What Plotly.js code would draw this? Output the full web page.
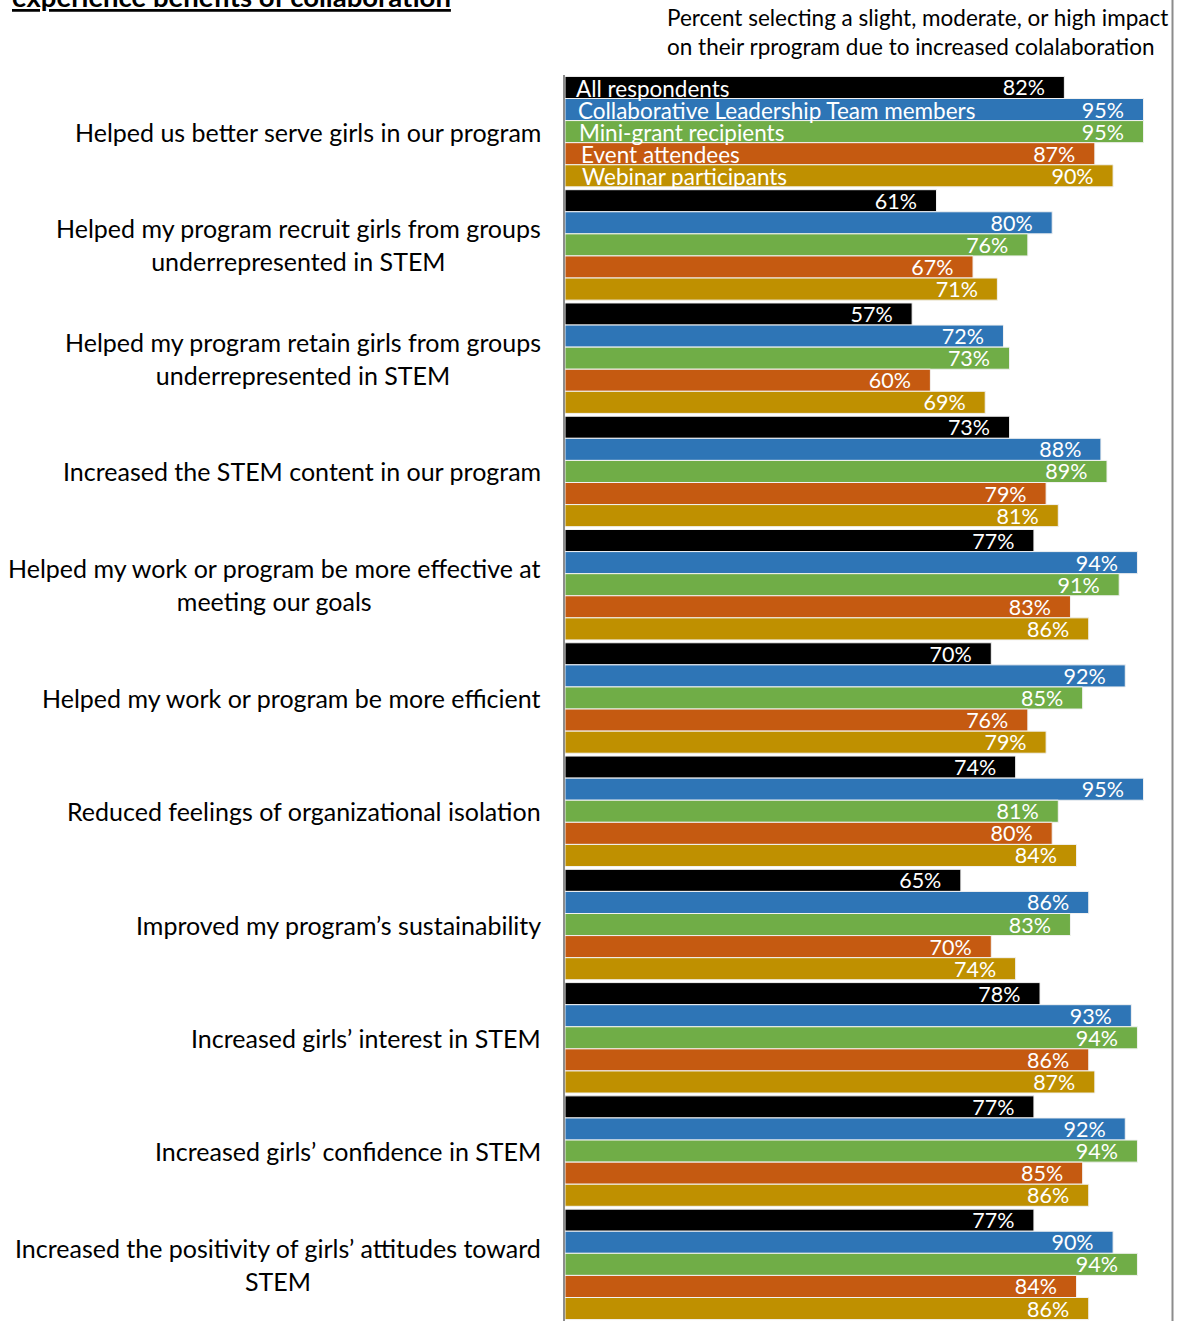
<!DOCTYPE html>
<html>
<head>
<meta charset="utf-8">
<script src="https://cdn.plot.ly/plotly-3.0.1.min.js"></script>
<style>html,body{margin:0;padding:0;background:#fff;}#chart{width:1179px;height:1321px;}</style>
</head>
<body>
<div id="chart"></div>
<script>
const categories = [
  "Helped us better serve girls in our program",
  "Helped my program recruit girls from groups<br>underrepresented in STEM",
  "Helped my program retain girls from groups<br>underrepresented in STEM",
  "Increased the STEM content in our program",
  "Helped my work or program be more effective at<br>meeting our goals",
  "Helped my work or program be more efficient",
  "Reduced feelings of organizational isolation",
  "Improved my program\u2019s sustainability",
  "Increased girls\u2019 interest in STEM",
  "Increased girls\u2019 confidence in STEM",
  "Increased the positivity of girls\u2019 attitudes toward<br>STEM"
];
const seriesNames = ["All respondents", "Collaborative Leadership Team members", "Mini-grant recipients", "Event attendees", "Webinar participants"];
const allRespondents = [82, 61, 57, 73, 77, 70, 74, 65, 78, 77, 77];
const cltMembers     = [95, 80, 72, 88, 94, 92, 95, 86, 93, 92, 90];
const miniGrant      = [95, 76, 73, 89, 91, 85, 81, 83, 94, 94, 94];
const eventAttendees = [87, 67, 60, 79, 83, 76, 80, 70, 86, 85, 84];
const webinar        = [90, 71, 69, 81, 86, 79, 84, 74, 87, 86, 86];
const seriesColors = ["#000000", "#2E75B6", "#70AD47", "#C55A11", "#BF9000"];
const titleText = "experience benefits of collaboration";
const subtitleText = "Percent selecting a slight, moderate, or high impact<br>on their rprogram due to increased colalaboration";

const FONT = "Lato, 'Open Sans', sans-serif";
const seriesValues = [allRespondents, cltMembers, miniGrant, eventAttendees, webinar];
const bargap = 0.025;
const nCat = categories.length;

const traces = seriesValues.map((vals, i) => ({
  type: "bar",
  orientation: "h",
  name: seriesNames[i],
  y: categories,
  x: vals,
  marker: {color: seriesColors[i], line: {color: "#f2f2f2", width: 1}},
  text: vals.map(v => v + "%\u00a0\u00a0\u00a0"),
  textposition: "inside",
  insidetextanchor: "end",
  constraintext: "none",
  insidetextfont: {color: "#ffffff", size: 21.5, family: FONT},
  hoverinfo: "skip",
  cliponaxis: false
}));

const annotations = [];
// category labels
categories.forEach((c, idx) => {
  annotations.push({
    xref: "paper", yref: "y", x: 0, y: idx,
    xanchor: "right", yanchor: "middle", xshift: -22,
    text: c, align: "center", showarrow: false,
    font: {family: FONT, size: 25, color: "#000"}
  });
});
// series names inside first group
const w = (1 - bargap) / seriesNames.length;
seriesNames.forEach((n, i) => {
  annotations.push({
    xref: "x", yref: "y", x: 0, y: 0 - (1 - bargap) / 2 + (i + 0.5) * w,
    xanchor: "left", yanchor: "middle", xshift: 9 + i * 1.5, yshift: -1,
    text: n, showarrow: false,
    font: {family: FONT, size: 22.5, color: "#fff"}
  });
});
// subtitle
annotations.push({
  xref: "paper", yref: "paper", x: 0, y: 1, xanchor: "left", yanchor: "bottom",
  xshift: 100, yshift: 13, align: "left", showarrow: false,
  text: subtitleText, font: {family: FONT, size: 22.5, color: "#000"}
});
// title (partly cut at top)
annotations.push({
  xref: "paper", yref: "paper", x: 0, y: 1, xanchor: "left", yanchor: "bottom",
  xshift: -555, yshift: 60, showarrow: false,
  text: "<b><u>" + titleText + "</u></b>", font: {family: FONT, size: 27.5, color: "#000"}
});

const layout = {
  width: 1179, height: 1321,
  margin: {l: 565, r: 5, t: 75, b: 0, pad: 0},
  paper_bgcolor: "#fff", plot_bgcolor: "#fff",
  barmode: "group", bargap: bargap, bargroupgap: 0,
  showlegend: false,
  font: {family: FONT},
  xaxis: {range: [0, 100], showticklabels: false, showgrid: false, zeroline: false, showline: false, fixedrange: true},
  yaxis: {type: "category", range: [nCat - 0.5, -0.5], autorange: false, showticklabels: false, showgrid: false, zeroline: false,
          showline: true, linecolor: "#8c8c8c", linewidth: 2, ticks: "", fixedrange: true},
  annotations: annotations,
  shapes: [{
    type: "line", xref: "paper", yref: "paper", x0: (1172.5 - 565) / 609, x1: (1172.5 - 565) / 609,
    y0: 0, y1: 1 + 75 / 1246, line: {color: "#8c8c8c", width: 2}
  }]
};

Plotly.newPlot("chart", traces, layout, {displayModeBar: false, staticPlot: true});
</script>
</body>
</html>
